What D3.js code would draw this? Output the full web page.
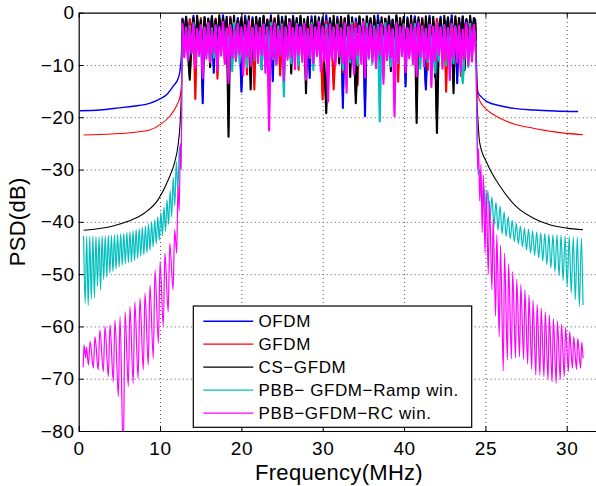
<!DOCTYPE html>
<html><head><meta charset="utf-8">
<script src="https://cdn.jsdelivr.net/npm/d3@7"></script>
<style>
html,body{margin:0;padding:0;background:#fff;}
svg{display:block;}
text{font-family:"Liberation Sans",Arial,Helvetica,sans-serif;fill:#000;}
</style></head><body>
<svg id="chart" width="596" height="486"></svg>
<script>
// ---------- data ----------
const xTickValues = [0, 10, 20, 30, 40, 50, 60];
const xTickLabels = ["0", "10", "20", "30", "40", "25", "30"];
const yTickValues = [-80, -70, -60, -50, -40, -30, -20, -10, 0];
const yTickLabels = ["\u221280", "\u221270", "\u221260", "\u221250", "\u221240", "\u221230", "\u221220", "\u221210", "0"];
const seriesNames = ["OFDM", "GFDM", "CS\u2212GFDM", "PBB\u2212 GFDM\u2212Ramp win.", "PBB\u2212GFDM\u2212RC win."];
const seriesColors = ["#0000ff", "#ff0000", "#000000", "#00bfbf", "#ff00ff"];
const bandStart = 12.75, bandEnd = 48.8;

const ofdmLeft = [[0.15,-18.75],[2.6,-18.6],[5.0,-18.2],[6.7,-17.9],[8.8,-17.3],[10.0,-16.5],[10.8,-15.7],[11.6,-14.1],[12.25,-12.5],[12.5,-10.5],[12.66,-7.1]];
const gfdmLeft = [[0.6,-23.4],[4.0,-23.2],[6.7,-22.9],[8.8,-22.4],[10.0,-21.4],[11.2,-19.8],[12.0,-17.9],[12.46,-16.0],[12.67,-13.5]];
const csLeft = [[0.6,-41.6],[4.0,-40.9],[6.06,-39.9],[8.1,-38.3],[9.75,-35.8],[11.0,-32.0],[11.8,-28.6],[12.2,-25.5],[12.45,-21.5],[12.62,-15.0]];
const rampLeft = [[0.6,-42.7],[0.79,-55.6],[0.98,-42.8],[1.17,-56.0],[1.36,-42.8],[1.55,-54.8],[1.74,-42.7],[1.93,-54.5],[2.12,-42.8],[2.31,-52.3],[2.5,-42.8],[2.69,-53.0],[2.88,-42.7],[3.07,-51.0],[3.26,-42.7],[3.45,-50.6],[3.64,-42.6],[3.83,-49.8],[4.02,-42.6],[4.21,-49.5],[4.4,-42.5],[4.59,-49.0],[4.78,-42.4],[4.97,-48.6],[5.16,-42.3],[5.35,-48.3],[5.54,-42.2],[5.73,-48.0],[5.92,-42.0],[6.11,-47.8],[6.3,-41.9],[6.49,-47.7],[6.68,-41.7],[6.87,-47.4],[7.06,-41.5],[7.25,-47.0],[7.44,-41.3],[7.63,-46.6],[7.82,-41.0],[8.01,-46.3],[8.2,-40.8],[8.39,-45.9],[8.58,-40.4],[8.77,-45.4],[8.96,-40.0],[9.15,-44.8],[9.34,-39.6],[9.53,-44.2],[9.72,-39.0],[9.91,-43.5],[10.1,-38.2],[10.29,-42.7],[10.48,-37.2],[10.67,-41.8],[10.86,-35.8],[11.05,-40.5],[11.24,-34.0],[11.43,-39.0],[11.62,-31.5],[11.81,-37.0],[12.0,-28.5],[12.19,-34.0],[12.38,-25.5],[12.57,-30.0]];
const rcLeft = [[0.55,-67.8],[0.65,-63.5],[0.85,-66.0],[0.95,-64.0],[1.2,-67.4],[1.4,-62.9],[1.8,-68.0],[2.0,-62.0],[2.4,-68.3],[2.6,-60.7],[3.03,-68.6],[3.23,-60.0],[3.64,-69.6],[3.85,-59.7],[4.25,-70.6],[4.46,-58.8],[4.87,-73.4],[5.08,-58.1],[5.48,-85.0],[5.7,-57.2],[6.1,-71.5],[6.3,-56.2],[6.7,-70.9],[6.9,-55.3],[7.3,-69.9],[7.53,-54.6],[7.94,-68.3],[8.15,-53.6],[8.55,-67.4],[8.76,-52.1],[9.17,-66.1],[9.38,-49.2],[9.8,-63.2],[10.0,-47.6],[10.4,-60.0],[10.6,-46.0],[11.0,-57.2],[11.2,-44.1],[11.6,-53.0],[11.8,-41.5],[12.05,-46.0],[12.2,-33.0],[12.35,-38.0],[12.5,-25.0],[12.6,-30.0]];

const ofdmBand = [-1.0,-4.5,-0.8,-5.2,-1.5,-3.8,-0.6,-6.0,-1.2,-4.1,-1.8,-17.3,-0.9,-5.5,-1.4,-3.6,-0.7,-11.5,-1.6,-4.4,
 -1.1,-5.8,-0.5,-3.9,-1.3,-6.5,-0.8,-4.7,-1.9,-5.1,-1.0,-3.5,-15.1,-6.2,-0.6,-4.3,-1.4,-12.0,-0.9,-5.0,
 -1.7,-3.7,-1.1,-6.8,-0.7,-4.6,-1.3,-5.4,-0.5,-13.1,-1.5,-4.2,-1.0,-10.8,-0.8,-3.9,-1.6,-5.9,-1.2,-4.8,
 -0.6,-6.3,-1.4,-4.0,-0.9,-5.6,-1.8,-3.6,-1.1,-12.5,-0.7,-4.5,-1.5,-5.3,-0.9,-6.9,-1.3,-4.1,-0.5,-5.7,
 -1.2,-3.8,-1.7,-6.1,-0.8,-4.9,-1.0,-18.2,-1.4,-5.2,-0.6,-4.4,-1.9,-11.2,-1.1,-3.7,-0.9,-6.4,-1.5,-19.8,
 -0.7,-4.3,-1.3,-5.5,-1.0,-6.6,-0.5,-4.0,-1.6,-10.6,-1.2,-5.0,-0.8,-3.9,-1.4,-6.2,-0.6,-4.7,-1.8,-5.4,
 -1.1,-14.1,-0.9,-4.6,-1.5,-6.0,-0.7,-3.8,-1.3,-5.8,-1.0,-7.3,-14.7,-4.2,-0.6,-5.1,-1.7,-12.3,-1.2,-4.0,
 -0.8,-5.6,-1.4,-3.7,-1.0,-6.4,-0.5,-4.9,-1.6,-13.5,-1.1,-5.3,-0.7,-4.1,-1.3,-6.8,-0.9,-3.9,-1.5,-2.0];
const gfdmBand = [-1.5,-5.0,-2.0,-6.3,-1.2,-4.4,-2.3,-16.5,-1.6,-5.7,-1.0,-7.1,-2.1,-4.8,-1.4,-6.0,-1.9,-5.2,-1.1,-12.6,
 -2.2,-4.6,-1.3,-6.6,-1.8,-5.4,-1.0,-7.6,-2.4,-4.9,-1.5,-6.1,-1.2,-5.3,-2.0,-11.8,-1.4,-4.7,-1.7,-14.7,
 -1.1,-6.4,-2.1,-5.1,-1.6,-7.3,-1.3,-4.5,-2.3,-6.2,-1.0,-5.6,-1.8,-12.0,-1.4,-4.8,-2.2,-6.9,-1.2,-5.5,
 -1.9,-4.6,-1.5,-10.9,-1.1,-5.9,-2.4,-6.6,-1.3,-5.0,-1.7,-4.3,-2.0,-7.0,-1.4,-5.8,-16.6,-6.2,-1.6,-4.9,
 -2.1,-5.5,-14.7,-6.8,-1.2,-4.7,-1.8,-11.4,-1.0,-5.2,-2.3,-6.0,-1.5,-4.4,-1.9,-13.8,-1.3,-5.9,-2.0,-6.5,
 -1.4,-4.8,-1.7,-8.1,-1.1,-5.3,-2.2,-6.7,-1.6,-4.5,-1.2,-7.2,-2.0,-5.6,-1.5,-6.3,-1.8,-13.2,-1.0,-5.0,
 -2.1,-6.0,-1.4,-4.9,-1.7,-7.7,-1.3,-5.4,-2.4,-6.5,-1.1,-4.6,-1.9,-11.0,-1.5,-5.7,-2.0,-6.2,-1.2,-5.1,
 -1.6,-7.0,-2.2,-15.1,-1.4,-5.8,-1.8,-6.4,-1.0,-4.7,-2.1,-12.1,-1.3,-5.5,-1.7,-6.8,-1.5,-4.9,-2.0,-3.0];
const csBand = [-1.2,-6.0,-0.8,-7.5,-12.8,-5.2,-1.0,-8.3,-0.6,-6.7,-1.4,-9.5,-0.9,-5.6,-1.1,-10.4,-0.7,-6.3,-1.3,-7.9,
 -0.5,-5.8,-1.0,-8.8,-0.8,-23.7,-1.2,-6.1,-0.6,-9.2,-1.5,-5.4,-0.9,-7.0,-1.1,-6.6,-0.7,-14.7,-1.3,-8.1,
 -0.8,-5.9,-1.0,-10.8,-0.6,-6.4,-1.4,-7.7,-0.9,-5.3,-1.2,-9.0,-0.5,-6.8,-1.1,-8.5,-0.7,-5.7,-1.3,-11.6,
 -0.9,-6.2,-1.0,-7.4,-0.6,-5.5,-1.2,-15.4,-0.8,-8.9,-1.4,-6.0,-0.7,-7.8,-1.1,-5.9,-0.9,-10.1,-19.2,-6.5,
 -1.0,-8.2,-0.6,-5.6,-1.3,-9.7,-0.8,-6.9,-1.1,-7.3,-0.5,-12.3,-0.9,-5.8,-17.3,-8.6,-0.7,-6.3,-1.2,-10.5,
 -0.8,-5.4,-1.0,-7.9,-0.6,-6.6,-1.4,-9.3,-0.9,-5.9,-1.1,-8.0,-0.7,-11.2,-1.3,-6.2,-0.5,-7.6,-1.0,-5.5,
 -0.8,-9.8,-1.2,-6.4,-0.6,-7.2,-1.1,-21.1,-0.9,-5.7,-1.3,-8.4,-0.7,-6.1,-1.0,-10.2,-0.8,-7.0,-23.0,-5.8,
 -1.1,-8.7,-0.6,-6.5,-0.9,-9.4,-1.3,-15.4,-0.7,-5.6,-1.0,-7.5,-0.8,-11.0,-1.2,-6.3,-0.6,-8.0,-1.0,-1.5];
const rampBand = [-2.3,-8.0,-3.0,-9.0,-2.6,-7.5,-2.0,-9.8,-3.2,-8.3,-2.4,-10.6,-2.8,-7.9,-2.1,-9.2,-3.0,-8.6,-2.5,-10.0,
 -2.9,-7.7,-2.2,-9.5,-3.1,-8.1,-2.6,-11.2,-2.0,-8.8,-2.7,-9.6,-3.3,-7.8,-2.4,-10.4,-2.1,-8.5,-2.9,-9.1,
 -2.5,-8.2,-3.0,-10.8,-2.3,-7.6,-2.8,-9.3,-2.0,-8.9,-3.1,-9.9,-2.6,-7.4,-2.2,-16.0,-2.9,-8.4,-2.4,-9.7,
 -3.0,-8.0,-2.1,-10.2,-2.7,-7.9,-2.4,-9.4,-3.2,-8.7,-2.0,-11.0,-2.8,-8.3,-2.5,-9.0,-3.1,-7.7,-2.3,-10.5,
 -2.6,-8.6,-2.9,-9.2,-2.2,-7.8,-3.0,-10.9,-2.4,-8.1,-2.7,-9.5,-2.0,-8.4,-3.1,-10.1,-2.5,-7.6,-2.8,-9.3,
 -2.1,-8.9,-3.0,-9.8,-2.6,-8.2,-2.3,-20.8,-2.9,-7.9,-2.0,-9.0,-2.7,-10.3,-3.2,-8.5,-2.4,-9.6,-2.8,-7.7,
 -2.2,-10.0,-3.0,-8.3,-2.5,-9.1,-2.1,-8.8,-2.9,-10.7,-2.6,-7.5,-3.1,-9.4,-2.3,-8.0,-2.7,-11.5,-2.0,-9.2,
 -2.8,-8.6,-2.4,-10.1,-3.0,-7.8,-2.2,-9.7,-2.6,-8.4,-2.9,-9.0,-13.5,-8.1,-2.5,-10.4,-2.1,-8.7,-2.8,-6.0];
const rcBand = [-2.0,-8.5,-2.8,-9.2,-3.0,-7.8,-2.2,-10.5,-3.1,-8.0,-2.5,-12.5,-2.9,-8.8,-2.0,-9.5,-3.3,-7.6,-2.4,-11.0,
 -2.7,-8.2,-1.8,-9.8,-3.0,-13.5,-2.3,-8.6,-3.2,-9.1,-2.1,-7.9,-2.8,-12.0,-2.5,-8.4,-1.6,-10.2,-3.0,-8.9,
 -2.4,-9.6,-2.9,-8.1,-2.2,-11.5,-3.1,-22.5,-2.6,-8.7,-2.0,-9.9,-3.2,-8.3,-2.5,-13.0,-2.8,-9.0,-1.9,-8.5,
 -3.0,-10.8,-2.3,-8.0,-2.7,-9.4,-2.1,-12.8,-3.1,-8.6,-2.4,-9.7,-2.9,-8.2,-1.7,-11.2,-2.6,-9.3,-3.0,-17.0,
 -2.2,-8.8,-2.8,-10.1,-2.4,-8.4,-3.2,-9.6,-2.0,-15.3,-2.7,-8.9,-2.3,-11.8,-3.0,-8.1,-2.5,-9.8,-1.8,-12.4,
 -2.9,-8.6,-2.2,-9.3,-3.1,-10.6,-2.6,-8.0,-2.1,-13.6,-2.8,-9.1,-2.4,-8.5,-3.2,-19.8,-2.0,-9.4,-2.7,-8.3,
 -2.5,-11.4,-3.0,-8.7,-2.2,-9.9,-2.8,-12.2,-1.9,-8.4,-2.6,-10.3,-3.1,-8.9,-2.3,-14.2,-2.7,-9.2,-2.1,-8.1,
 -2.9,-10.7,-2.4,-9.0,-3.0,-12.9,-2.2,-8.6,-2.8,-9.5,-2.5,-11.1,-3.2,-8.8,-2.0,-10.0,-2.7,-9.3,-2.3,-7.5];

const ofdmRight = [[48.95,-13.0],[49.1,-15.3],[49.5,-16.1],[50.2,-17.0],[51.8,-17.8],[53.5,-18.3],[55.9,-18.6],[58.5,-18.8],[61.4,-18.9]];
const gfdmRight = [[48.95,-13.5],[49.1,-16.0],[49.6,-17.6],[50.2,-18.6],[51.8,-20.2],[53.5,-21.3],[55.9,-22.1],[58.5,-22.8],[62.0,-23.35]];
const csRight = [[48.95,-16.0],[49.1,-21.0],[49.3,-24.9],[50.2,-28.8],[51.8,-33.2],[53.8,-37.1],[55.9,-39.3],[58.0,-40.6],[60.0,-41.2],[62.0,-41.5]];
const rampRight = [[48.95,-20.0],[49.1,-31.0],[49.3,-30.0],[49.55,-37.0],[49.8,-33.0],[50.05,-39.5],[50.3,-34.0],[50.55,-40.0],[50.8,-35.2],[51.05,-40.8],[51.3,-36.2],[51.55,-41.6],[51.8,-37.0],[52.05,-42.3],[52.3,-38.1],[52.55,-42.8],[52.8,-39.0],[53.05,-43.2],[53.3,-39.7],[53.55,-43.8],[53.8,-40.3],[54.05,-44.2],[54.3,-40.8],[54.55,-44.8],[54.8,-41.2],[55.05,-45.4],[55.3,-41.4],[55.55,-46.0],[55.8,-41.7],[56.05,-46.4],[56.3,-41.9],[56.55,-46.9],[56.8,-42.1],[57.05,-47.5],[57.3,-42.2],[57.55,-48.2],[57.8,-42.4],[58.05,-48.8],[58.3,-42.5],[58.55,-49.5],[58.8,-42.5],[59.05,-50.3],[59.3,-42.6],[59.55,-51.2],[59.8,-42.7],[60.05,-52.4],[60.3,-42.8],[60.55,-53.6],[60.8,-42.9],[61.05,-54.9],[61.3,-42.9],[61.55,-56.2],[61.8,-43.1],[62.0,-55.9]];
const rcRight = [[48.95,-20.0],[49.05,-30.0],[49.15,-26.0],[49.3,-36.0],[49.45,-29.0],[49.6,-42.0],[49.75,-31.0],[49.95,-46.0],[50.1,-34.0],[50.35,-50.0],[50.5,-36.0],[50.8,-53.0],[50.95,-39.5],[51.25,-58.0],[51.4,-42.5],[51.7,-62.0],[51.85,-44.5],[52.2,-68.5],[52.35,-46.0],[52.7,-66.5],[52.85,-48.0],[53.2,-66.2],[53.35,-49.5],[53.7,-66.0],[53.85,-51.0],[54.2,-65.8],[54.35,-52.0],[54.7,-66.3],[54.85,-53.0],[55.2,-67.2],[55.35,-54.0],[55.7,-68.2],[55.85,-55.0],[56.2,-69.3],[56.35,-55.8],[56.7,-69.3],[56.85,-56.5],[57.2,-69.6],[57.35,-57.2],[57.7,-70.2],[57.85,-57.8],[58.2,-70.6],[58.35,-58.5],[58.7,-70.9],[58.85,-59.0],[59.2,-70.2],[59.35,-59.6],[59.7,-69.6],[59.85,-60.2],[60.2,-68.6],[60.35,-61.0],[60.7,-68.0],[60.85,-62.0],[61.2,-68.2],[61.35,-62.3],[61.7,-68.0],[61.85,-63.0],[62.0,-66.1]];

// ---------- chart ----------
const svg = d3.select("#chart");
const L = 78.7, R = 599.3, T = 12.7, B = 431;
const x = d3.scaleLinear().domain([0, 64]).range([L, R]);
const y = d3.scaleLinear().domain([-80, 0]).range([B, T]);

svg.append("defs").append("clipPath").attr("id", "plotclip")
  .append("rect").attr("x", L).attr("y", T).attr("width", R - L).attr("height", B - T);

// grid
const grid = svg.append("g").attr("class", "grid");
grid.append("g").attr("transform", `translate(0,${B})`)
  .call(d3.axisBottom(x).tickValues(xTickValues.slice(1)).tickSize(-(B - T)).tickFormat(""))
  .call(g => g.select(".domain").remove());
grid.append("g").attr("transform", `translate(${L},0)`)
  .call(d3.axisLeft(y).tickValues(yTickValues.slice(1, -1)).tickSize(-(R - L)).tickFormat(""))
  .call(g => g.select(".domain").remove());
grid.selectAll("line").attr("stroke", "#555").attr("stroke-width", 1).attr("stroke-dasharray", "1,3");

// series
const series = [
  {left: ofdmLeft, band: ofdmBand, right: ofdmRight, w: 1.4},
  {left: gfdmLeft, band: gfdmBand, right: gfdmRight, w: 1.1},
  {left: csLeft, band: csBand, right: csRight, w: 1.1},
  {left: rampLeft, band: rampBand, right: rampRight, w: 1.2},
  {left: rcLeft, band: rcBand, right: rcRight, w: 1.2}
];
const line = d3.line().x(d => x(d[0])).y(d => y(d[1])).curve(d3.curveMonotoneX);
const bandLine = d3.line().x(d => x(d[0])).y(d => y(d[1]));
const plot = svg.append("g").attr("clip-path", "url(#plotclip)");
series.forEach((s, k) => {
  const step = (bandEnd - bandStart) / (s.band.length - 1);
  const bandPts = s.band.map((v, i) => [bandStart + i * step, v]);
  const pts = [...s.left, ...bandPts, ...s.right];
  plot.append("path").datum(pts).attr("d", line)
    .attr("fill", "none").attr("stroke", seriesColors[k])
    .attr("stroke-width", s.w).attr("stroke-linejoin", "round");
  plot.append("path").datum(bandPts).attr("d", bandLine)
    .attr("fill", "none").attr("stroke", seriesColors[k])
    .attr("stroke-width", 2.1).attr("stroke-linejoin", "round");
});

// axes
const fontTick = "19px";
const xAxis = svg.append("g").attr("transform", `translate(0,${B})`)
  .call(d3.axisBottom(x).tickValues(xTickValues).tickFormat((d, i) => xTickLabels[i])
    .tickSizeInner(-5).tickSizeOuter(0).tickPadding(11));
const yAxis = svg.append("g").attr("transform", `translate(${L},0)`)
  .call(d3.axisLeft(y).tickValues(yTickValues).tickFormat((d, i) => yTickLabels[i])
    .tickSizeInner(-5).tickSizeOuter(0).tickPadding(4));
const topAxis = svg.append("g").attr("transform", `translate(0,${T})`)
  .call(d3.axisTop(x).tickValues(xTickValues).tickFormat("").tickSizeInner(-5).tickSizeOuter(0));
[xAxis, yAxis, topAxis].forEach(g => {
  g.selectAll(".domain").attr("stroke", "#000").attr("stroke-width", 1.2);
  g.selectAll(".tick line").attr("stroke", "#000").attr("stroke-width", 1);
  g.selectAll("text").attr("font-family", "'Liberation Sans',Arial,sans-serif")
    .attr("font-size", fontTick).attr("fill", "#000").style("letter-spacing", "0.6px");
});

// titles
svg.append("text").attr("x", (L + R) / 2).attr("y", 480).attr("text-anchor", "middle")
  .attr("font-size", "22px").style("letter-spacing", "0.3px").text("Frequency(MHz)");
svg.append("text").attr("transform", `translate(25,${(T + B) / 2}) rotate(-90)`)
  .attr("text-anchor", "middle").attr("font-size", "22px").style("letter-spacing", "0.3px").text("PSD(dB)");

// legend
const lg = svg.append("g");
lg.append("rect").attr("x", 193.3).attr("y", 306).attr("width", 278.4).attr("height", 121.3)
  .attr("fill", "#fff").attr("stroke", "#000").attr("stroke-width", 1.2);
seriesNames.forEach((nm, k) => {
  const yy = 321.2 + k * 23;
  lg.append("line").attr("x1", 203.3).attr("x2", 253.3).attr("y1", yy).attr("y2", yy)
    .attr("stroke", seriesColors[k]).attr("stroke-width", k === 0 ? 1.6 : 1.2);
  lg.append("text").attr("x", 258.5).attr("y", yy).attr("dy", "0.36em")
    .attr("font-size", "17px").style("letter-spacing", "0.6px").text(nm);
});
</script>
</body></html>
